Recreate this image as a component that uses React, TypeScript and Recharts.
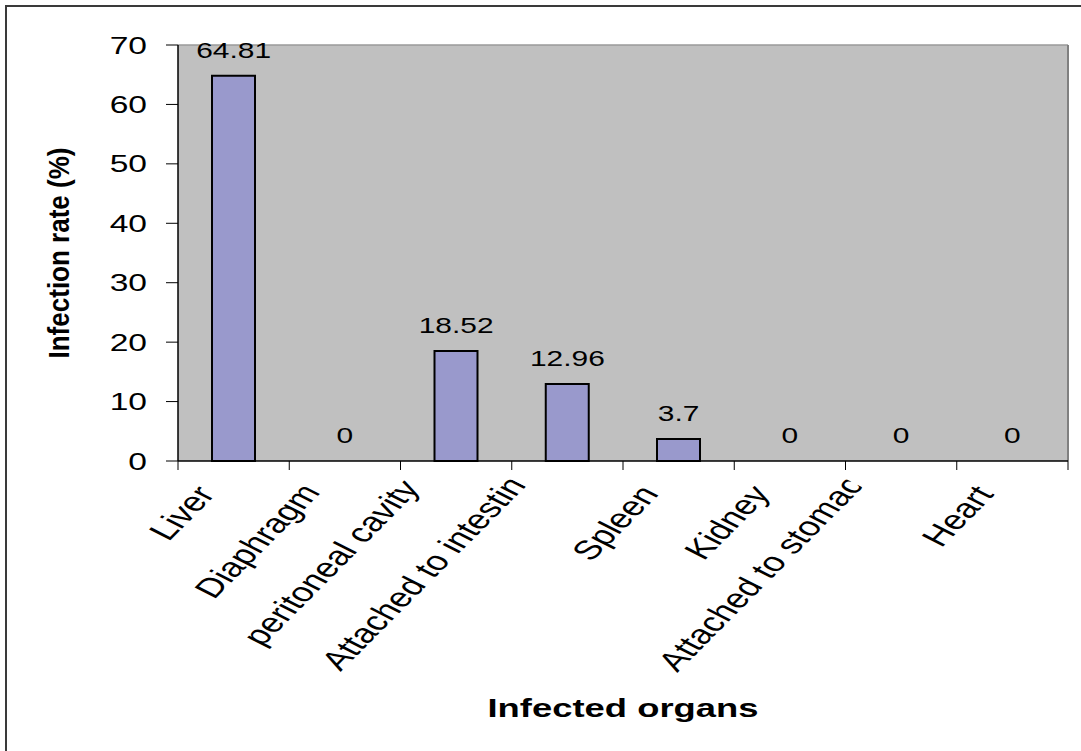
import React from "react";
import {
  ComposedChart,
  Bar,
  Line,
  XAxis,
  YAxis,
  CartesianGrid,
  LabelList,
  Label,
} from "recharts";

// Organs examined and the share of infected animals per organ (%)
const organs = [
  "Liver",
  "Diaphragm",
  "peritoneal cavity",
  "Attached to intestine",
  "Spleen",
  "Kidney",
  "Attached to stomach",
  "Heart",
];
const infectionRates = [64.81, 0, 18.52, 12.96, 3.7, 0, 0, 0];
const rateTicks = [0, 10, 20, 30, 40, 50, 60, 70];

const xTitle = "Infected organs";
const yTitle = "Infection rate (%)";

const data = organs.map((organ, i) => ({ organ, rate: infectionRates[i] }));

const FONT = "'Liberation Sans', Arial, Helvetica, sans-serif";
const STRETCH = 1.4;
const LABEL_ANGLE = -54.5;
const LABEL_FONT = 27;
const LABEL_MAX = 228;
const LABEL_MAX_CHARS = 18;

const RateTick = (props: any) => {
  const { x, y, payload } = props;
  return (
    <text
      transform={`translate(${x},${y + 8.6}) scale(${STRETCH},1)`}
      textAnchor="end"
      fontFamily={FONT}
      fontSize={24}
      fill="#000"
    >
      {payload.value}
    </text>
  );
};

const OrganTick = (props: any) => {
  const { x, y, payload, index, width } = props;
  const band = (width || 890) / organs.length;
  const name: string = String(payload.value);
  const len = name.length;
  const px = x - 10 - 1.5 * len;
  const py = y + 36 - 0.5 * len;
  const long = len > LABEL_MAX_CHARS;
  const clipId = `organ-tick-clip-${index}`;
  return (
    <g>
      <line x1={x - band / 2} y1={y} x2={x - band / 2} y2={y + 9} stroke="#000" strokeWidth={1} />
      {index === organs.length - 1 && (
        <line x1={x + band / 2} y1={y} x2={x + band / 2} y2={y + 9} stroke="#000" strokeWidth={1} />
      )}
      <g transform={`translate(${px},${py}) scale(${STRETCH},1) rotate(${LABEL_ANGLE})`}>
        <clipPath id={clipId}>
          <rect x={-LABEL_MAX} y={-40} width={LABEL_MAX} height={60} />
        </clipPath>
        <text
          x={long ? -LABEL_MAX : 0}
          y={0}
          textAnchor={long ? "start" : "end"}
          fontFamily={FONT}
          fontSize={LABEL_FONT}
          fill="#000"
          clipPath={`url(#${clipId})`}
        >
          {name}
        </text>
      </g>
    </g>
  );
};

// value printed above each bar, including the empty ones
const ValueLabel = (props: any) => {
  const { x, y, value } = props;
  return (
    <text
      transform={`translate(${x},${y - 18}) scale(1.36,1)`}
      textAnchor="middle"
      fontFamily={FONT}
      fontSize={22}
      fill="#000"
    >
      {value}
    </text>
  );
};

const XTitle = (props: any) => {
  const vb = props.viewBox || {};
  return (
    <text
      transform={`translate(${vb.x + vb.width / 2},${vb.y + 256}) scale(${STRETCH},1)`}
      textAnchor="middle"
      fontFamily={FONT}
      fontWeight="bold"
      fontSize={26}
      fill="#000"
    >
      {xTitle}
    </text>
  );
};

const YTitle = (props: any) => {
  const vb = props.viewBox || {};
  const cy = vb.y + vb.height / 2;
  return (
    <text
      transform={`translate(69,${cy}) scale(1.1,1) rotate(-90)`}
      textAnchor="middle"
      fontFamily={FONT}
      fontWeight="bold"
      fontSize={26}
      textLength={211}
      lengthAdjust="spacingAndGlyphs"
      fill="#000"
    >
      {yTitle}
    </text>
  );
};

export default function App() {
  return (
    <div style={{ position: "absolute", left: 0, top: 0, width: 1081, height: 751, background: "#fff", overflow: "hidden" }}>
      <div
        style={{
          position: "absolute",
          left: 5,
          top: 5,
          width: 1076,
          height: 746,
          borderTop: "2px solid #3a3a3a",
          borderLeft: "2px solid #3a3a3a",
          boxSizing: "border-box",
        }}
      />
      <div style={{ position: "absolute", left: 0, top: 0 }}>
        <ComposedChart
          width={1081}
          height={751}
          data={data}
          margin={{ top: 45, right: 13, bottom: 0, left: 0 }}
          barSize={43}
        >
          {/* plot background with its top edge */}
          <CartesianGrid
            fill="#C0C0C0"
            vertical={false}
            stroke="#9a9a9a"
            strokeWidth={1.5}
            horizontalCoordinatesGenerator={({ offset }: any) => [offset.top]}
          />
          {/* right edge of the plot frame */}
          <CartesianGrid
            horizontal={false}
            stroke="#808080"
            strokeWidth={2}
            verticalCoordinatesGenerator={({ offset }: any) => [offset.left + offset.width]}
          />
          <XAxis
            dataKey="organ"
            height={290}
            interval={0}
            tickLine={false}
            tickSize={0}
            tickMargin={0}
            axisLine={{ stroke: "#000", strokeWidth: 1.5 }}
            tick={<OrganTick />}
          >
            <Label content={<XTitle />} />
          </XAxis>
          <YAxis
            width={178}
            domain={[0, 70]}
            ticks={rateTicks}
            interval={0}
            tickSize={12}
            tickMargin={19}
            tickLine={{ stroke: "#000" }}
            axisLine={{ stroke: "#000", strokeWidth: 1.5 }}
            tick={<RateTick />}
          >
            <Label content={<YTitle />} />
          </YAxis>
          <Bar dataKey="rate" fill="#9999CC" stroke="#000" strokeWidth={2} isAnimationActive={false} />
          <Line
            dataKey="rate"
            stroke="none"
            dot={false}
            activeDot={false}
            legendType="none"
            isAnimationActive={false}
          >
            <LabelList dataKey="rate" content={<ValueLabel />} />
          </Line>
        </ComposedChart>
      </div>
    </div>
  );
}
